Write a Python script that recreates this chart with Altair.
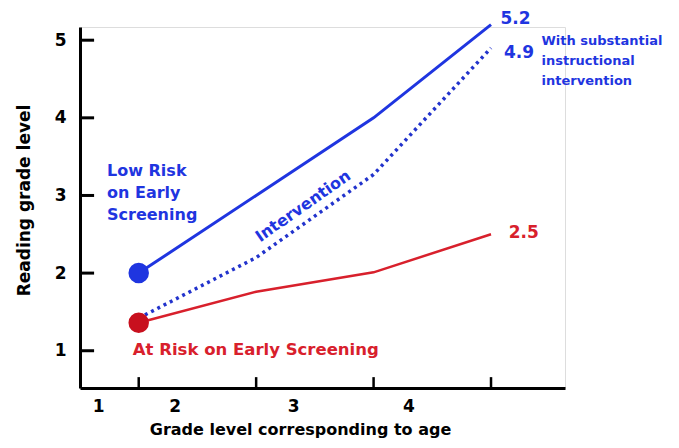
import altair as alt
import pandas as pd

# ---- data ----
grade_pos = [1.5, 2.5, 3.5, 4.5]
low_risk = [2.0, 3.0, 4.0, 5.2]
intervention = [1.42, 2.2, 3.27, 4.9]
at_risk = [1.36, 1.76, 2.01, 2.5]

y_ticks = [1, 2, 3, 4, 5]
x_tick_labels = ["1", "2", "3", "4"]
x_label_pos = [1.16, 1.81, 2.82, 3.80]

BLUE = "#1f35e0"
RED = "#d8202c"
FONT = "DejaVu Sans"

XD = [1, 5.13]
YD = [0.52, 5.17]
xs = alt.Scale(domain=XD, nice=False, zero=False)
ys = alt.Scale(domain=YD, nice=False, zero=False)

rows = []
for name, vals in [("low", low_risk), ("int", intervention), ("risk", at_risk)]:
    for g, v in zip(grade_pos, vals):
        rows.append({"series": name, "x": g, "y": v})
df = pd.DataFrame(rows)

def line(name, color, width, dash=None):
    kw = dict(color=color, strokeWidth=width, clip=False)
    if dash:
        kw["strokeDash"] = dash
    return alt.Chart(df[df.series == name]).mark_line(**kw).encode(
        x=alt.X("x:Q", scale=xs, axis=alt.Axis(title="Grade level corresponding to age", labels=False, ticks=False,
                                                 domainColor="black", domainWidth=3, grid=False,
                                                 titleFont=FONT, titleFontSize=16, titleFontWeight="bold",
                                                 titleColor="black", titlePadding=33, titleX=220)),
        y=alt.Y("y:Q", scale=ys, axis=alt.Axis(title="Reading grade level", values=y_ticks, ticks=False,
                                                 format="d",
                                                 domainColor="black", domainWidth=3, grid=False,
                                                 labelFont=FONT, labelFontSize=17, labelFontWeight="bold",
                                                 labelColor="black", labelPadding=14,
                                                 titleFont=FONT, titleFontSize=17, titleFontWeight="bold",
                                                 titleColor="black", titlePadding=21, titleY=173)),
    )

blue_line = line("low", BLUE, 3)
int_line = line("int", "#2233cc", 3.5, [3, 4])
red_line = line("risk", RED, 2.5)

dots = alt.Chart(pd.DataFrame({"x": [grade_pos[0], grade_pos[0]], "y": [low_risk[0], at_risk[0]],
                               "c": [BLUE, "#c8101e"]})).mark_circle(size=420, opacity=1).encode(
    x=alt.X("x:Q", scale=xs), y=alt.Y("y:Q", scale=ys), color=alt.Color("c:N", scale=None))

# inner ticks
ytick_df = pd.DataFrame({"y": y_ticks, "x": [XD[0]] * 5, "x2": [XD[0] + 0.12] * 5})
ytick = alt.Chart(ytick_df).mark_rule(color="black", strokeWidth=3).encode(
    x=alt.X("x:Q", scale=xs), x2="x2:Q", y=alt.Y("y:Q", scale=ys))
xtick_df = pd.DataFrame({"x": grade_pos, "y": [YD[0]] * 4, "y2": [YD[0] + 0.14] * 4})
xtick = alt.Chart(xtick_df).mark_rule(color="black", strokeWidth=2.5).encode(
    x=alt.X("x:Q", scale=xs), y=alt.Y("y:Q", scale=ys), y2="y2:Q")

xlab = alt.Chart(pd.DataFrame({"x": x_label_pos, "y": [0.27] * 4, "t": x_tick_labels})).mark_text(
    font=FONT, fontSize=17, fontWeight="bold", color="black", baseline="middle").encode(
    x=alt.X("x:Q", scale=xs), y=alt.Y("y:Q", scale=ys), text="t:N")

ann = pd.DataFrame([
    {"x": 4.58, "y": 5.27, "t": "5.2", "c": BLUE, "s": 17},
    {"x": 4.61, "y": 4.84, "t": "4.9", "c": BLUE, "s": 17},
    {"x": 4.65, "y": 2.52, "t": "2.5", "c": RED, "s": 17},
    {"x": 4.93, "y": 4.99, "t": "With substantial", "c": BLUE, "s": 13},
    {"x": 4.93, "y": 4.73, "t": "instructional", "c": BLUE, "s": 13},
    {"x": 4.93, "y": 4.47, "t": "intervention", "c": BLUE, "s": 13},
    {"x": 1.23, "y": 3.32, "t": "Low Risk", "c": BLUE, "s": 16},
    {"x": 1.23, "y": 3.03, "t": "on Early", "c": BLUE, "s": 16},
    {"x": 1.23, "y": 2.75, "t": "Screening", "c": BLUE, "s": 16},
    {"x": 1.45, "y": 1.01, "t": "At Risk on Early Screening", "c": RED, "s": 16.5},
])
anns = alt.Chart(ann).mark_text(font=FONT, fontWeight="bold", align="left", baseline="middle").encode(
    x=alt.X("x:Q", scale=xs), y=alt.Y("y:Q", scale=ys), text="t:N",
    color=alt.Color("c:N", scale=None), size=alt.Size("s:Q", scale=None))

interv = alt.Chart(pd.DataFrame({"x": [2.90], "y": [2.86], "t": ["Intervention"]})).mark_text(
    font=FONT, fontWeight="bold", fontSize=16, color=BLUE, angle=325, align="center", baseline="middle").encode(
    x=alt.X("x:Q", scale=xs), y=alt.Y("y:Q", scale=ys), text="t:N")

chart = alt.layer(blue_line, int_line, red_line, dots, ytick, xtick, xlab, anns, interv).properties(
    width=485, height=361,
    autosize=alt.AutoSizeParams(type="none"),
    padding={"left": 72, "top": 19, "right": 106, "bottom": 52},
).configure_view(stroke=None).configure(background="white")

chart.save("out.html", embed_options={"renderer": "svg", "actions": False})
